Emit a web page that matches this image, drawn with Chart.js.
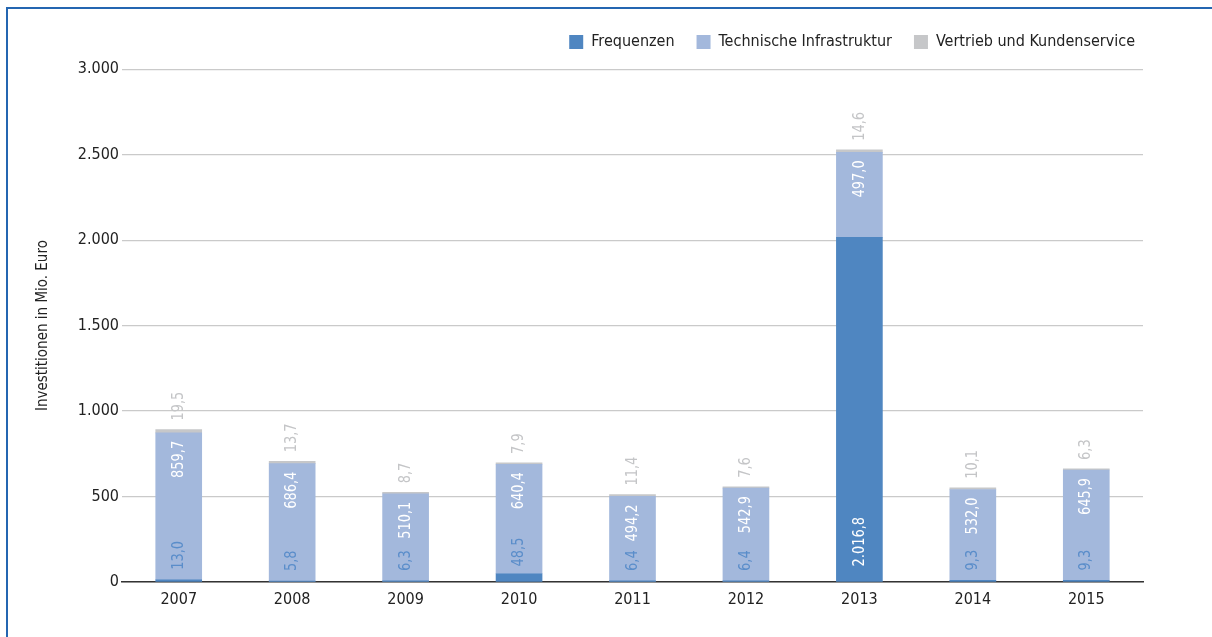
<!DOCTYPE html>
<html>
<head>
<meta charset="utf-8">
<script src="https://cdn.jsdelivr.net/npm/chart.js@4.4.0/dist/chart.umd.min.js"></script>
<style>
  body { margin: 0; background: #fff; }
  #wrap { position: relative; width: 1212px; height: 637px; }
  #frame { position: absolute; left: 6px; top: 7px; right: 0; bottom: 0;
           border-top: 2px solid #2466b1; border-left: 2px solid #2466b1; }
  canvas { position: absolute; left: 0; top: 0; }
</style>
</head>
<body>
<div id="wrap">
  <div id="frame"></div>
  <canvas id="chart" width="1212" height="637"></canvas>
</div>
<script>
const FONT = '"Liberation Sans Narrow", "DejaVu Sans Condensed", "Arial Narrow", sans-serif';

const jahre = ['2007', '2008', '2009', '2010', '2011', '2012', '2013', '2014', '2015'];
const frequenzen = [13.0, 5.8, 6.3, 48.5, 6.4, 6.4, 2016.8, 9.3, 9.3];
const infrastruktur = [859.7, 686.4, 510.1, 640.4, 494.2, 542.9, 497.0, 532.0, 645.9];
const vertrieb = [19.5, 13.7, 8.7, 7.9, 11.4, 7.6, 14.6, 10.1, 6.3];

const chartEl = document.getElementById('chart');

const tausender = (v) => String(v).replace(/\B(?=(\d{3})+(?!\d))/g, '.');
const fmt = (v) => {
  const [ganz, dez] = v.toFixed(1).split('.');
  return tausender(ganz) + ',' + dez;
};

const SCHMAL = 0.9; // Schrift etwas schmaler, wie im Original

// Beschriftung der Balken (um 90 Grad gedreht)
const barLabels = {
  id: 'barLabels',
  afterDatasetsDraw(chart) {
    const ctx = chart.ctx;
    ctx.save();
    ctx.font = '16px ' + FONT;
    ctx.textBaseline = 'middle';
    chart.data.datasets.forEach((ds, di) => {
      const meta = chart.getDatasetMeta(di);
      meta.data.forEach((bar, i) => {
        const text = fmt(ds.data[i]);
        const w = ctx.measureText(text).width * SCHMAL;
        const h = bar.base - bar.y;
        let y, align, color;
        if (di === 0) {
          y = bar.base - 10 - Math.min(5, h);
          align = 'left';
          color = (h > w + 20) ? '#ffffff' : '#5a8dca';
        } else if (di === 1) {
          y = bar.y + 8;
          align = 'right';
          color = '#ffffff';
        } else {
          y = bar.y - 9;
          align = 'left';
          color = '#c4c5c7';
        }
        ctx.save();
        ctx.translate(bar.x, y);
        ctx.rotate(-Math.PI / 2);
        ctx.scale(SCHMAL, 1);
        ctx.textAlign = align;
        ctx.fillStyle = color;
        ctx.fillText(text, 0, 0);
        ctx.restore();
      });
    });
    ctx.restore();
  }
};

// Legende etwas nach rechts schieben (endet im Original fast am Rand)
const legendShift = {
  id: 'legendShift',
  afterLayout(chart) {
    chart.legend.left += 14;
    chart.legend.right += 14;
  }
};

Chart.defaults.font.family = FONT;
Chart.defaults.color = '#222';

new Chart(chartEl, {
  type: 'bar',
  data: {
    labels: jahre,
    datasets: [
      { label: 'Frequenzen', data: frequenzen, backgroundColor: '#4f86c1' },
      { label: 'Technische Infrastruktur', data: infrastruktur, backgroundColor: '#a3b8dc' },
      { label: 'Vertrieb und Kundenservice', data: vertrieb, backgroundColor: '#c6c7c9' }
    ]
  },
  options: {
    responsive: false,
    animation: false,
    barThickness: 46,
    layout: { padding: { left: 30, right: 69, top: 12, bottom: 15 } },
    plugins: {
      legend: {
        position: 'top',
        align: 'end',
        labels: {
          boxWidth: 14,
          boxHeight: 14,
          padding: 22,
          color: '#222',
          font: { size: 16 }
        }
      },
      // leerer Titel als Abstand zwischen Legende und Diagramm
      title: {
        display: true,
        text: ' ',
        weight: 500,
        font: { size: 1 },
        padding: { top: 0, bottom: 8 }
      },
      tooltip: { enabled: false }
    },
    scales: {
      x: {
        stacked: true,
        grid: { display: false, drawTicks: false },
        border: { display: true, color: '#333', width: 1.5 },
        ticks: { color: '#222', font: { size: 16 }, padding: 8 },
        afterFit: (s) => { s.height = 40; }
      },
      y: {
        stacked: true,
        min: 0,
        max: 3000,
        grid: { color: '#cacaca', lineWidth: 1.2, drawTicks: false },
        border: { display: false },
        ticks: {
          stepSize: 500,
          padding: 3,
          color: '#222',
          font: { size: 16 },
          callback: (v) => tausender(v)
        },
        title: {
          display: true,
          text: 'Investitionen in Mio. Euro',
          color: '#222',
          font: { size: 15 }
        },
        afterFit: (s) => { s.width = 92; }
      }
    }
  },
  plugins: [barLabels, legendShift]
});
</script>
</body>
</html>
